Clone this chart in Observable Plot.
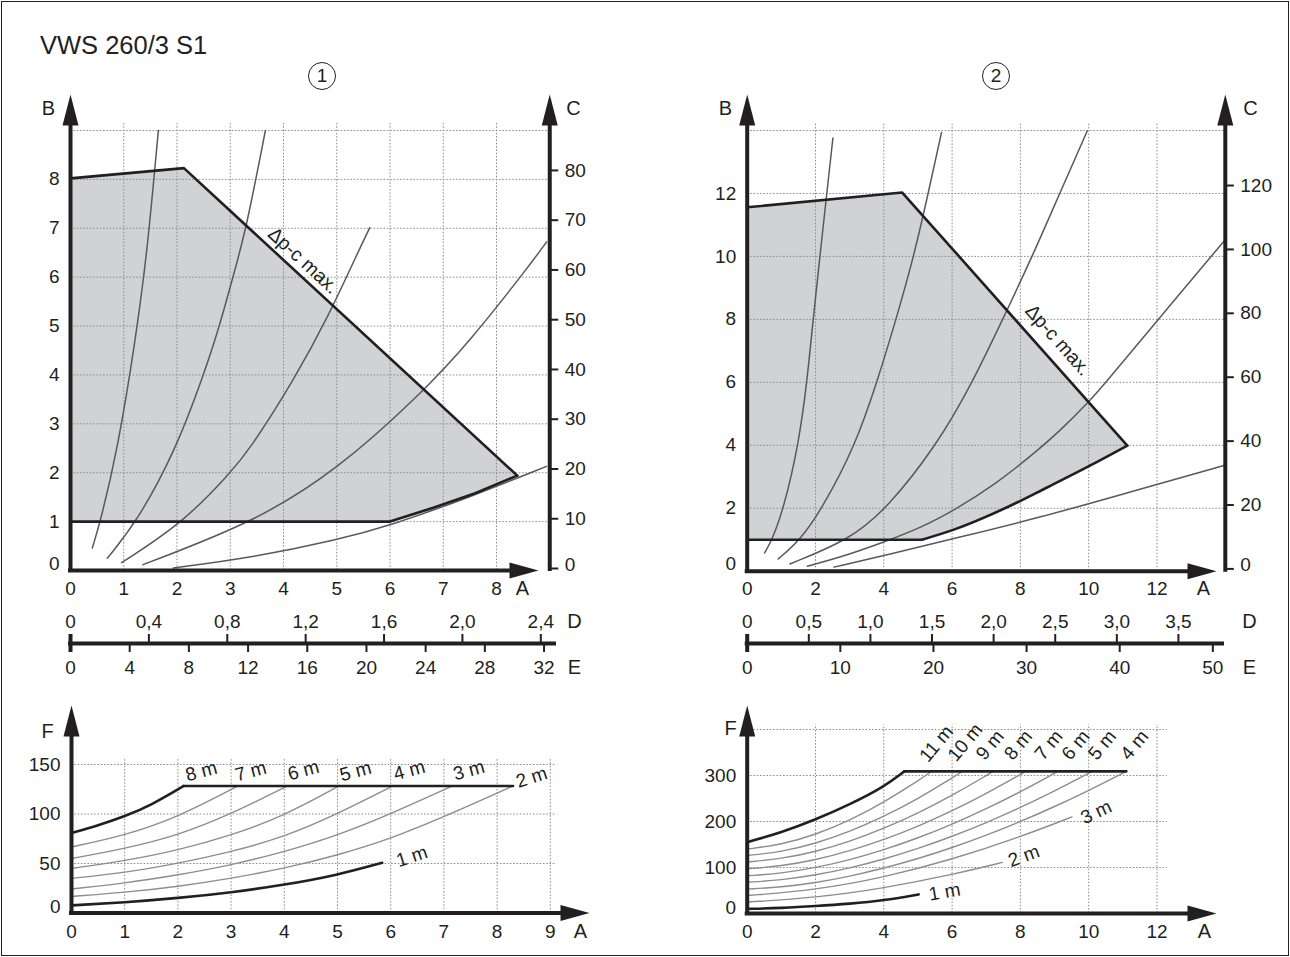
<!DOCTYPE html>
<html><head><meta charset="utf-8">
<script src="https://cdn.jsdelivr.net/npm/d3@7"></script>
<script src="https://cdn.jsdelivr.net/npm/@observablehq/plot@0.6"></script>
<style>
body{margin:0;background:#fff;}
#page{position:relative;width:1290px;height:957px;overflow:hidden;font-family:"Liberation Sans",Arial,sans-serif;color:#231f20;}
#frame{position:absolute;left:1px;top:1px;width:1286px;height:953px;border:1px solid #231f20;}
.title{position:absolute;left:40px;top:32px;font-size:25.5px;line-height:26px;}
.circ{position:absolute;width:26px;height:26px;border:1.4px solid #231f20;border-radius:50%;text-align:center;line-height:26px;font-size:19px;}
</style></head>
<body>
<div id="page">
  <div id="frame"></div>
  <div class="title">VWS 260/3 S1</div>
  <div class="circ" style="left:308px;top:62px;">1</div>
  <div class="circ" style="left:982px;top:62px;">2</div>
</div>
<script>
// ================= DATA =================
// ---- Chart 1 (upper left) ----
const c1TicksA = [0,1,2,3,4,5,6,7,8];
const c1TicksB = [0,1,2,3,4,5,6,7,8];
const c1TicksC = [0,10,20,30,40,50,60,70,80];
const c1TicksD = [0,0.4,0.8,1.2,1.6,2.0,2.4];
const c1TicksE = [0,4,8,12,16,20,24,28,32];
const c1GridA = [1,2,3,4,5,6,7,8];
const c1GridB = [1,2,3,4,5,6,7,8,9];
const c1Field = [[0,1],[0,8.02],[2.13,8.23],[8.39,1.94],[7.6,1.58],[6.8,1.28],[6.0,1.0],[0,1]];
const c1LimitTop = [[0,8.02],[2.13,8.23],[8.39,1.94]];
const c1LimitLow = [[8.39,1.94],[7.6,1.58],[6.8,1.28],[6.0,1.0],[0,1.0]];
const c1Curve1 = [[0.41,0.46],[0.56,1.0],[0.88,2.45],[1.22,4.7],[1.44,6.54],[1.58,8.18],[1.65,9.0]];
const c1Curve2 = [[0.69,0.25],[1.25,1.0],[1.97,2.45],[2.5,4.0],[2.8,5.0],[3.1,6.2],[3.3,7.0],[3.66,9.0]];
const c1Curve3 = [[0.96,0.16],[2.14,1.0],[3.0,2.0],[3.35,2.45],[4.2,3.9],[4.88,5.28],[5.41,6.54],[5.62,7.01]];
const c1Curve4 = [[1.36,0.12],[3.47,1.0],[5.0,2.05],[6.57,3.6],[7.51,4.7],[8.64,6.27],[8.94,6.72]];
const c1Curve5 = [[1.93,0.05],[3.39,0.26],[5.0,0.62],[6.03,0.93],[7.5,1.5],[8.94,2.13]];

// ---- Chart 2 (upper right) ----
const c2TicksA = [0,2,4,6,8,10,12];
const c2TicksB = [0,2,4,6,8,10,12];
const c2TicksC = [0,20,40,60,80,100,120];
const c2TicksD = [0,0.5,1.0,1.5,2.0,2.5,3.0,3.5];
const c2TicksE = [0,10,20,30,40,50];
const c2GridA = [2,4,6,8,10,12];
const c2GridB = [2,4,6,8,10,12,14];
const c2Field = [[0,1],[0,11.56],[4.54,12.03],[11.13,3.99],[10.05,3.36],[8.78,2.66],[7.61,2.03],[6.05,1.32],[5.12,1.0],[0,1]];
const c2LimitBase = [[0,1.0],[5.12,1.0]];
const c2LimitMax = [[0,11.56],[4.54,12.03],[11.13,3.99]];
const c2LimitLow = [[5.12,1.0],[6.05,1.32],[7.61,2.03],[8.78,2.66],[10.05,3.36],[11.13,3.99]];
const c2Curve1 = [[0.51,0.58],[0.73,1.0],[1.07,2.0],[1.5,4.0],[1.75,6.0],[1.93,8.0],[2.13,10.0],[2.33,12.0],[2.51,13.76]];
const c2Curve2 = [[0.91,0.39],[1.56,1.0],[2.2,2.0],[3.17,4.0],[3.8,6.0],[4.36,8.0],[4.88,10.0],[5.3,12.0],[5.69,13.94]];
const c2Curve3 = [[1.25,0.23],[3.0,1.0],[4.1,2.0],[5.55,4.0],[6.6,6.0],[7.48,8.0],[8.35,10.0],[9.15,12.0],[9.96,13.99]];
const c2Curve4 = [[1.76,0.16],[2.73,0.44],[4.0,0.92],[5.12,1.4],[6.05,1.93],[7.22,2.72],[8.39,3.73],[9.17,4.47],[10.0,5.37],[10.5,6.0],[11.96,7.9],[13.96,10.48]];
const c2Curve5 = [[2.54,0.13],[4.2,0.55],[6.15,1.06],[8.59,1.71],[11.03,2.46],[13.96,3.36]];

// ---- Chart 3 (lower left) ----
const c3TicksA = [0,1,2,3,4,5,6,7,8,9];
const c3TicksF = [0,50,100,150];
const c3GridA = [1,2,3,4,5,6,7,8,9];
const c3GridF = [50,100,150];
const c3Limit = [[2.11,128.3],[8.3,128.3]];
const c3Head8 = [[0,80.7],[0.5,88.5],[1,97.5],[1.5,109],[2.11,128.3]];
const c3Head7 = [[0,66.7],[1,78.3],[2,96.7],[3.13,128.3]];
const c3Head6 = [[0,55],[1,65],[2,78.3],[3,100],[4.06,128.3]];
const c3Head5 = [[0,45],[1,52.7],[2,63.3],[3,78.3],[4,98.3],[5.03,128.3]];
const c3Head4 = [[0,35],[1,40.7],[2,50],[3,61.7],[4,76.7],[5,100],[6.04,128.3]];
const c3Head3 = [[0,24.3],[1,30],[2,38.3],[3,48.3],[4,61.7],[5,78.3],[6,100],[7.16,128.3]];
const c3Head2 = [[0,16.7],[1,20.7],[2,26.7],[3,35],[4,45],[5,58.3],[6,75],[7,97],[8.3,128.3]];
const c3Head1 = [[0,7.7],[1,10.7],[2,15],[3,20.7],[4,28.3],[5,38.3],[5.84,50.7]];
const c3Labels = [
  {A:2.44,F:143,t:"8 m",r:-15},{A:3.37,F:143,t:"7 m",r:-15},{A:4.36,F:144,t:"6 m",r:-15},
  {A:5.34,F:143,t:"5 m",r:-15},{A:6.35,F:144,t:"4 m",r:-15},{A:7.47,F:144,t:"3 m",r:-15},
  {A:8.65,F:137,t:"2 m",r:-18},{A:6.4,F:57,t:"1 m",r:-18}];

// ---- Chart 4 (lower right) ----
const c4TicksA = [0,2,4,6,8,10,12];
const c4TicksF = [0,100,200,300];
const c4GridA = [2,4,6,8,10,12];
const c4GridF = [100,200,300,400];
const c4Limit = [[4.6,309],[11.1,309]];
const c4Head11 = [[0,155],[1,176],[2,204],[3,237],[4,275],[4.6,309]];
const c4Head10 = [[0,140],[1,149.6],[2,171.2],[3,202.3],[4,241.5],[5,288.2],[5.4,309]];
const c4Head9 = [[0,126],[1,134],[2,152],[3,177.9],[4,210.5],[5,249.5],[6,294.4],[6.3,309]];
const c4Head8 = [[0,112],[1,118.9],[2,134.3],[3,156.5],[4,184.6],[5,217.9],[6,256.5],[7,299.7],[7.2,309]];
const c4Head7 = [[0,97],[1,103],[2,116.5],[3,135.8],[4,160.2],[5,189.4],[6,222.9],[7,260.7],[8,302.4],[8.15,309]];
const c4Head6 = [[0,82],[1,87.3],[2,99.3],[3,116.4],[4,138.1],[5,164],[6,193.8],[7,227.3],[8,264.3],[9,304.7],[9.1,309]];
const c4Head5 = [[0,68],[1,72.7],[2,83.4],[3,98.6],[4,117.9],[5,141],[6,167.4],[7,197.2],[8,230.1],[9,266.1],[10,304.9],[10.1,309]];
const c4Head4 = [[0,53],[1,57.3],[2,66.8],[3,80.7],[4,98.3],[5,118.9],[6,142.9],[7,169.9],[8,199.6],[9,232.2],[10,267.4],[11.1,309]];
const c4Head3 = [[0,39],[2,51.1],[4,78.3],[6,117.2],[8,166.6],[9.51,210]];
const c4Head2 = [[0,25],[2,34.2],[4,54.8],[6,84.3],[7.47,111]];
const c4Head1 = [[0,10],[1,12],[2,16],[3,21],[4,28.4],[5.02,41.5]];
const c4Labels = [
  {A:5.54,F:369,t:"11 m",r:-50},{A:6.38,F:372,t:"10 m",r:-50},{A:7.11,F:366,t:"9 m",r:-50},
  {A:7.94,F:366,t:"8 m",r:-50},{A:8.83,F:366,t:"7 m",r:-50},{A:9.62,F:366,t:"6 m",r:-50},
  {A:10.4,F:366,t:"5 m",r:-50},{A:11.34,F:366,t:"4 m",r:-50},
  {A:10.22,F:220,t:"3 m",r:-25},{A:8.1,F:125,t:"2 m",r:-20},{A:5.78,F:47,t:"1 m",r:-10}];

// ================= DRAWING =================
const FONT = '"Liberation Sans", Arial, sans-serif';
const INK = "#231f20", GRID = "#8e8e8e", SHADE = "#d1d2d4", SYS = "#58595b", THIN = "#8d8d8d";
const DASH = "1.6,1.7";
const page = document.getElementById("page");

const arrowUp = {draw(c){ c.moveTo(0,0); c.lineTo(8,31); c.lineTo(-8,31); c.closePath(); }};
const arrowRight = {draw(c){ c.moveTo(0,0); c.lineTo(-29,-8); c.lineTo(-29,8); c.closePath(); }};

function frameOf(f){
  const sx = (f.x1-f.x0)/(f.xd[1]-f.xd[0]);
  const sy = (f.yb-f.yt)/(f.yd[1]-f.yd[0]);
  f.X = px => f.xd[0] + (px-f.x0)/sx;
  f.Y = py => f.yd[0] + (f.yb-py)/sy;
  return f;
}
function draw(f, marks){
  const svg = Plot.plot({
    width:1290, height:957,
    marginLeft:f.x0, marginRight:1290-f.x1, marginTop:f.yt, marginBottom:957-f.yb,
    x:{domain:f.xd, axis:null}, y:{domain:f.yd, axis:null},
    style:{background:"transparent", fontFamily:FONT, fontSize:"19px", color:INK, overflow:"visible"},
    marks
  });
  svg.style.position="absolute"; svg.style.left="0px"; svg.style.top="0px";
  page.appendChild(svg);
}
const pts = a => a.map(([x,y])=>({x,y}));
const series = list => list.flatMap((a,i)=>a.map(([x,y])=>({x,y,id:i})));
const comma = d => d===0 ? "0" : d.toFixed(1).replace(".", ",");
const txt = (f, px, py, t, opt={}) => Plot.text([{x:f.X(px), y:f.Y(py), t}], {x:"x", y:"y", text:"t", fontSize:19, ...opt});

// Main (pump curve) chart builder
function mainChart(f, o){
  const m = [];
  m.push(Plot.line(pts(o.field), {x:"x", y:"y", fill:SHADE, stroke:"none"}));
  m.push(Plot.ruleY(o.gridB, {y:d=>d, x1:0, x2:o.xMax, stroke:GRID, strokeWidth:1, strokeDasharray:DASH}));
  m.push(Plot.ruleX(o.gridA, {x:d=>d, y1:0, y2:f.Y(o.gridTop), stroke:GRID, strokeWidth:1, strokeDasharray:DASH}));
  m.push(Plot.line(series(o.curves), {x:"x", y:"y", z:"id", stroke:SYS, strokeWidth:1.5, curve:"basis"}));
  for (const l of o.limits) m.push(Plot.line(pts(l.d), {x:"x", y:"y", stroke:INK, strokeWidth:2.6, curve:l.c || "linear"}));
  // axes
  m.push(Plot.ruleX([0], {y1:f.Y(f.yb+2), y2:f.Y(122), stroke:INK, strokeWidth:4}));
  m.push(Plot.ruleY([0], {x1:f.X(f.x0-2), x2:f.X(o.arrowA-27), stroke:INK, strokeWidth:4}));
  m.push(Plot.ruleX([o.xMax], {y1:f.Y(f.yb+1), y2:f.Y(122), stroke:INK, strokeWidth:4}));
  m.push(Plot.dot([{x:0, y:f.Y(94)}], {x:"x", y:"y", symbol:arrowUp, fill:INK, stroke:"none"}));
  m.push(Plot.dot([{x:o.xMax, y:f.Y(94)}], {x:"x", y:"y", symbol:arrowUp, fill:INK, stroke:"none"}));
  m.push(Plot.dot([{x:f.X(o.arrowA), y:0}], {x:"x", y:"y", symbol:arrowRight, fill:INK, stroke:"none"}));
  // tick labels left (B)
  m.push(Plot.text(o.ticksB.filter(d=>d>0), {x:0, y:d=>d, text:d=>String(d), dx:-11, textAnchor:"end", fontSize:19}));
  m.push(Plot.text([0], {x:0, y:0, text:()=> "0", dx:-11, dy:-7, textAnchor:"end", fontSize:19}));
  // right C axis ticks & labels
  m.push(Plot.ruleY(o.ticksC, {y:o.cToB, x1:o.xMax, x2:f.X(f.x1+9), stroke:INK, strokeWidth:2}));
  m.push(Plot.text(o.ticksC.filter(d=>d>0), {x:o.xMax, y:o.cToB, text:d=>String(d), dx:15, textAnchor:"start", fontSize:19}));
  m.push(Plot.text([0], {x:o.xMax, y:o.cToB, text:()=>"0", dx:15, dy:-4, textAnchor:"start", fontSize:19}));
  // A labels
  m.push(Plot.text(o.ticksA, {x:d=>d, y:f.Y(588), text:d=>String(d), fontSize:19}));
  // D / E scale
  const yBar = f.Y(643);
  m.push(Plot.ruleY([yBar], {x1:f.X(f.x0-2), x2:f.X(o.barEnd), stroke:INK, strokeWidth:4}));
  m.push(Plot.ruleX([0], {y1:f.Y(634), y2:f.Y(652), stroke:INK, strokeWidth:4}));
  m.push(Plot.ruleX(o.ticksD.filter(d=>d>0), {x:d=>d*o.dToA, y1:f.Y(634), y2:yBar, stroke:INK, strokeWidth:2}));
  m.push(Plot.ruleX(o.ticksE.filter(d=>d>0), {x:d=>d*o.eToA, y1:yBar, y2:f.Y(652), stroke:INK, strokeWidth:2}));
  m.push(Plot.text(o.ticksD, {x:d=>d*o.dToA, y:f.Y(621), text:comma, fontSize:19}));
  m.push(Plot.text(o.ticksE, {x:d=>d*o.eToA, y:f.Y(667), text:d=>String(d), fontSize:19}));
  // axis letters
  for (const [px,py,t] of o.letters) m.push(txt(f, px, py, t, {fontSize:20}));
  // delta p label
  m.push(Plot.text([o.dp], {x:"A", y:"B", text:()=>"\u0394p-c max.", rotate:o.dp.r, lineAnchor:"middle", fontSize:19.5}));
  draw(f, m);
}

// ---- Chart 1 ----
const f1 = frameOf({x0:70, x1:549.25, xd:[0,9], yb:570, yt:130, yd:[0,9]});
mainChart(f1, {
  field:c1Field, gridA:c1GridA, gridB:c1GridB, xMax:9, gridTop:123,
  curves:[c1Curve1,c1Curve2,c1Curve3,c1Curve4,c1Curve5],
  limits:[{d:c1LimitTop},{d:c1LimitLow}],
  arrowA:538, ticksA:c1TicksA, ticksB:c1TicksB, ticksC:c1TicksC,
  cToB: c => (2 + c*4.977)/48.9,
  ticksD:c1TicksD, dToA:3.68, ticksE:c1TicksE, eToA:0.2779, barEnd:556,
  letters:[[48,108,"B"],[573,108,"C"],[522,588,"A"],[574,621,"D"],[574,667,"E"]],
  dp:{A:4.37, B:6.34, r:42.6}
});

// ---- Chart 2 ----
const f2 = frameOf({x0:746.7, x1:1224.8, xd:[0,14], yb:570.7, yt:130, yd:[0,14]});
mainChart(f2, {
  field:c2Field, gridA:c2GridA, gridB:c2GridB, xMax:14, gridTop:123,
  curves:[c2Curve1,c2Curve2,c2Curve3,c2Curve4,c2Curve5],
  limits:[{d:c2LimitBase},{d:c2LimitMax},{d:c2LimitLow, c:"monotone-x"}],
  arrowA:1216, ticksA:c2TicksA, ticksB:c2TicksB, ticksC:c2TicksC,
  cToB: c => (2.3 + c*3.195)/31.48,
  ticksD:c2TicksD, dToA:3.608, ticksE:c2TicksE, eToA:0.2727, barEnd:1224,
  letters:[[725,108,"B"],[1250,108,"C"],[1203,588,"A"],[1249,621,"D"],[1249,667,"E"]],
  dp:{A:9.10, B:7.34, r:48.4}
});

// Head (F) chart builder
function headChart(f, o){
  const m = [];
  m.push(Plot.ruleY(o.gridF, {y:d=>d, x1:0, x2:o.gridRight, stroke:GRID, strokeWidth:1, strokeDasharray:DASH}));
  m.push(Plot.ruleX(o.gridA, {x:d=>d, y1:0, y2:o.gridTop, stroke:GRID, strokeWidth:1, strokeDasharray:DASH}));
  m.push(Plot.line(series(o.thin), {x:"x", y:"y", z:"id", stroke:THIN, strokeWidth:1.4, curve:"basis"}));
  m.push(Plot.line(series(o.thick), {x:"x", y:"y", z:"id", stroke:INK, strokeWidth:2.6, curve:"basis"}));
  m.push(Plot.line(pts(o.limit), {x:"x", y:"y", stroke:INK, strokeWidth:2.6}));
  m.push(Plot.ruleX([0], {y1:f.Y(f.yb+2), y2:f.Y(735), stroke:INK, strokeWidth:4}));
  m.push(Plot.ruleY([0], {x1:f.X(f.x0-2), x2:f.X(o.arrowA-27), stroke:INK, strokeWidth:4}));
  m.push(Plot.dot([{x:0, y:f.Y(705)}], {x:"x", y:"y", symbol:arrowUp, fill:INK, stroke:"none"}));
  m.push(Plot.dot([{x:f.X(o.arrowA), y:0}], {x:"x", y:"y", symbol:arrowRight, fill:INK, stroke:"none"}));
  m.push(Plot.text(o.ticksF.filter(d=>d>0), {x:0, y:d=>d, text:d=>String(d), dx:-11, textAnchor:"end", fontSize:19}));
  m.push(Plot.text([0], {x:0, y:0, text:()=>"0", dx:-11, dy:-6, textAnchor:"end", fontSize:19}));
  m.push(Plot.text(o.ticksA, {x:d=>d, y:f.Y(931), text:d=>String(d), fontSize:19}));
  for (const [px,py,t] of o.letters) m.push(txt(f, px, py, t, {fontSize:20}));
  for (const l of o.labels) m.push(Plot.text([l], {x:"A", y:"F", text:"t", rotate:l.r, fontSize:19}));
  draw(f, m);
}

const f3 = frameOf({x0:71, x1:549.8, xd:[0,9], yb:912.5, yt:764, yd:[0,150]});
headChart(f3, {
  gridF:c3GridF, gridA:c3GridA, gridRight:9.12, gridTop:155,
  thin:[c3Head7,c3Head6,c3Head5,c3Head4,c3Head3,c3Head2], thick:[c3Head8,c3Head1],
  limit:c3Limit, arrowA:589, ticksF:c3TicksF, ticksA:c3TicksA,
  letters:[[47,731,"F"],[580,931,"A"]], labels:c3Labels
});

const f4 = frameOf({x0:746.7, x1:1224.8, xd:[0,14], yb:913, yt:729, yd:[0,400]});
headChart(f4, {
  gridF:c4GridF, gridA:c4GridA, gridRight:12.3, gridTop:410,
  thin:[c4Head10,c4Head9,c4Head8,c4Head7,c4Head6,c4Head5,c4Head4,c4Head3,c4Head2], thick:[c4Head11,c4Head1],
  limit:c4Limit, arrowA:1216, ticksF:c4TicksF, ticksA:c4TicksA,
  letters:[[730,728,"F"],[1204,931,"A"]], labels:c4Labels
});
</script>
</body></html>
